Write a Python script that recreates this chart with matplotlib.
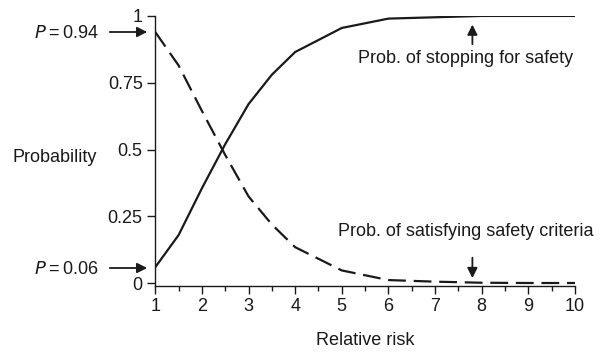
import matplotlib.pyplot as plt
from matplotlib.ticker import MultipleLocator

plt.rcParams['font.family'] = ['Liberation Sans', 'DejaVu Sans']

# relative risk values and the two operating characteristic curves
relative_risk = [1, 1.5, 2, 2.5, 3, 3.5, 4, 5, 6, 7, 8, 9, 10]
p_stop = [0.06, 0.18, 0.355, 0.52, 0.67, 0.78, 0.865, 0.955, 0.99, 0.995, 1.0, 1.0, 1.0]
p_satisfy = [0.94, 0.815, 0.645, 0.48, 0.325, 0.22, 0.135, 0.048, 0.012, 0.006, 0.002, 0.001, 0.001]

yticks = [0, 0.25, 0.5, 0.75, 1]
ytick_labels = ['0', '0.25', '0.5', '0.75', '1']

ink = '#1a1a1a'
fs = 13

fig = plt.figure(figsize=(6.04, 3.54), dpi=100)
ax = fig.add_axes([0.257, 0.193, 0.695, 0.762])

ax.plot(relative_risk, p_stop, color=ink, lw=1.6)
ax.plot(relative_risk, p_satisfy, color=ink, lw=1.6, linestyle=(0, (8, 3.5)))

ax.set_xlim(1, 10)
ax.set_ylim(-0.009, 1)
ax.spines['top'].set_visible(False)
ax.spines['right'].set_visible(False)
ax.spines['left'].set_bounds(-0.009, 1)
for s in ['left', 'bottom']:
    ax.spines[s].set_linewidth(1.0)
    ax.spines[s].set_color(ink)

ax.xaxis.set_major_locator(MultipleLocator(1))
ax.xaxis.set_minor_locator(MultipleLocator(0.5))
ax.set_yticks(yticks)
ax.set_yticklabels(ytick_labels)
ax.tick_params(axis='both', which='major', length=6, width=1, colors=ink, labelsize=fs, pad=3)
ax.tick_params(axis='x', which='minor', length=3.5, width=1, colors=ink)

ax.set_xlabel('Relative risk', fontsize=fs, color=ink, labelpad=12)
fig.text(12 / 604, 1 - 157 / 354, 'Probability', fontsize=fs, color=ink, va='center', ha='left')

# arrows pointing at the start values (figure pixel positions)
arrow = dict(arrowstyle='-|>,head_length=0.5,head_width=0.25', color=ink, lw=1.3,
             mutation_scale=12)
for ypix, label in [(32, '0.94'), (268, '0.06')]:
    yf = 1 - ypix / 354
    ax.annotate('', xy=(150 / 604, yf), xytext=(107 / 604, yf), xycoords='figure fraction',
                textcoords='figure fraction', arrowprops=arrow, annotation_clip=False)
    fig.text(99 / 604, yf - 2 / 354, r'$P$' + '\u2009=\u2009' + label, fontsize=fs,
             color=ink, ha='right', va='center')

ax.annotate('', xy=(7.8, 0.978), xytext=(7.8, 0.884), arrowprops=arrow)
ax.text(7.66, 0.839, 'Prob. of stopping for safety', fontsize=fs, color=ink,
        ha='center', va='center')
ax.annotate('', xy=(7.8, 0.009), xytext=(7.8, 0.106), arrowprops=arrow)
ax.text(7.66, 0.192, 'Prob. of satisfying safety criteria', fontsize=fs, color=ink,
        ha='center', va='center')

fig.savefig('out.png', dpi=100)
